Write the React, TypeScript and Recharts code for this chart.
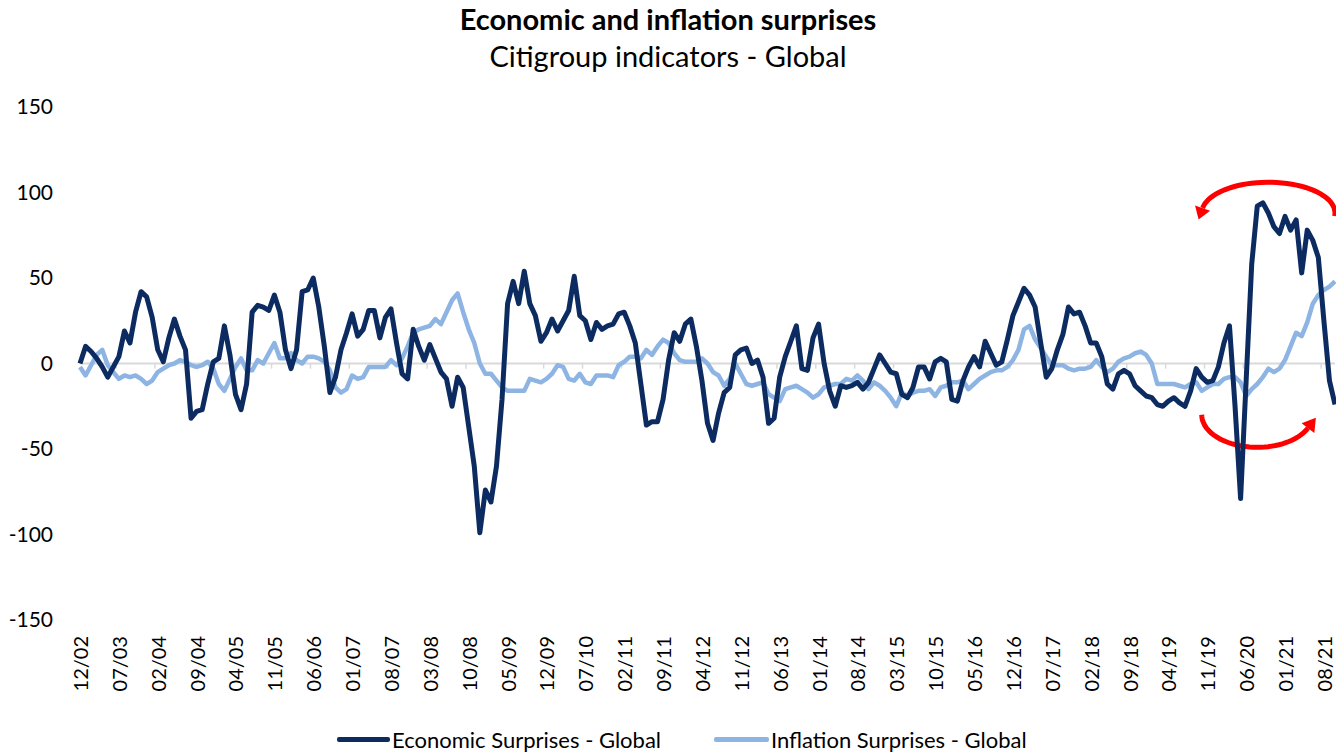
import { LineChart, Line, XAxis, YAxis, ReferenceLine, ReferenceArea } from "recharts";

// Citi surprise indices, monthly, 12/2002 .. 10/2021
const economic = [
  0, 10, 7, 3, -2, -8, -2, 4, 19, 12,
  30, 42, 39, 27, 8, 1, 15, 26, 16, 8,
  -32, -28, -27, -12, 1, 3, 22, 5, -18, -27,
  -12, 30, 34, 33, 31, 40, 30, 8, -3, 8,
  42, 43, 50, 33, 10, -17, -8, 8, 18, 29,
  16, 20, 31, 31, 15, 27, 32, 12, -6, -9,
  20, 10, 2, 11, 3, -5, -9, -25, -8, -14,
  -37, -60, -99, -74, -81, -60, -21, 35, 48, 35,
  54, 35, 28, 13, 18, 26, 19, 25, 31, 51,
  28, 25, 14, 24, 20, 22, 23, 29, 30, 22,
  12, -12, -36, -34, -34, -21, 2, 18, 13, 23,
  26, 10, -10, -35, -45, -29, -17, -14, 5, 8,
  9, 0, 2, -8, -35, -32, -8, 4, 13, 22,
  -3, -4, 15, 23, 0, -16, -25, -13, -14, -13,
  -11, -15, -11, -3, 5, 0, -5, -6, -18, -20,
  -14, -2, -2, -9, 1, 3, 1, -21, -22, -10,
  -2, 4, -2, 13, 6, -1, 1, 14, 28, 36,
  44, 40, 33, 12, -8, -3, 8, 17, 33, 29,
  30, 22, 12, 12, 4, -12, -15, -6, -4, -6,
  -13, -16, -19, -20, -24, -25, -22, -20, -23, -25,
  -16, -3, -8, -11, -10, -2, 12, 22, -25, -79,
  -10, 58, 92, 94, 88, 80, 76, 86, 78, 84,
  53, 78, 72, 62, 25, -10, -24,
];

const inflation = [
  -2, -7, -1, 5, 8, -1, -5, -9, -7, -8,
  -7, -9, -12, -10, -5, -3, -1, 0, 2, 1,
  -1, -2, -1, 1, -3, -12, -16, -9, -2, 3,
  -4, -4, 2, 0, 6, 12, 3, 3, 6, 2,
  0, 4, 4, 3, 1, -4, -14, -17, -15, -7,
  -9, -8, -2, -2, -2, -2, 2, -1, 3, 10,
  18, 20, 21, 22, 26, 23, 30, 37, 41, 30,
  20, 12, 0, -6, -6, -10, -14, -16, -16, -16,
  -16, -9, -10, -11, -9, -6, -1, -2, -9, -10,
  -6, -11, -12, -7, -7, -7, -8, -1, 1, 4,
  4, 3, 8, 5, 10, 14, 12, 6, 2, 1,
  1, 1, 3, 0, -5, -7, -13, -9, 0, -6,
  -12, -13, -12, -11, -18, -20, -22, -15, -14, -13,
  -15, -17, -20, -18, -14, -13, -12, -12, -9, -10,
  -7, -10, -15, -11, -13, -16, -20, -25, -17, -19,
  -17, -16, -16, -15, -19, -14, -13, -11, -11, -10,
  -15, -12, -9, -7, -5, -4, -4, -2, 2, 8,
  20, 22, 14, 9, 4, -1, -1, -1, -3, -4,
  -3, -3, -2, 2, -2, -5, -3, 1, 3, 4,
  6, 7, 5, 0, -12, -12, -12, -12, -13, -14,
  -12, -11, -16, -14, -12, -12, -9, -8, -8, -11,
  -19, -15, -12, -8, -3, -5, -3, 2, 10, 18,
  16, 24, 35, 40, 43, 45, 48,
];

const yTicks = [-150, -100, -50, 0, 50, 100, 150];

const DARK = "#0c2c61";
const LIGHT = "#8db4e2";
const FONT = "Lato, 'Open Sans', sans-serif";

// month labels mm/yy starting 12/02
const months = economic.map((_, i) => {
  const m = ((11 + i) % 12) + 1;
  const y = 2002 + Math.floor((11 + i) / 12);
  return `${String(m).padStart(2, "0")}/${String(y % 100).padStart(2, "0")}`;
});

const data = months.map((label, i) => ({
  i,
  label,
  economic: economic[i],
  inflation: inflation[i],
}));

const xTicks = data.filter((d) => d.i % 7 === 0).map((d) => d.i);

function MonthTick({ x, y, payload }: any) {
  return (
    <text
      x={x}
      y={y}
      dy={8}
      transform={`rotate(-90, ${x}, ${y})`}
      textAnchor="end"
      fill="#000"
      fontSize={20}
      fontFamily={FONT}
    >
      {months[payload.value]}
    </text>
  );
}

function ellipsePts(cx: number, cy: number, rx: number, ry: number, t0: number, t1: number) {
  const pts: string[] = [];
  const n = 40;
  for (let k = 0; k <= n; k++) {
    const t = t0 + ((t1 - t0) * k) / n;
    pts.push(`${(cx + rx * Math.cos(t)).toFixed(1)},${(cy + ry * Math.sin(t)).toFixed(1)}`);
  }
  return "M" + pts.join(" L");
}

function arrowHead(cx: number, cy: number, rx: number, ry: number, t: number, tip: number) {
  // direction of travel when t decreases
  let dx = rx * Math.sin(t);
  let dy = -ry * Math.cos(t);
  const len = Math.hypot(dx, dy);
  dx /= len;
  dy /= len;
  const bx = cx + rx * Math.cos(t);
  const by = cy + ry * Math.sin(t);
  const w = 8;
  return `M${bx + dx * tip},${by + dy * tip} L${bx - dy * w},${by + dx * w} L${bx + dy * w},${by - dx * w} Z`;
}

// top arc: right -> over the top -> arrow pointing down on the left
function TopArc({ x, y, width, height }: any) {
  const cx = x + width / 2;
  const cy = y + height;
  const rx = width / 2;
  const ry = height;
  const tEnd = -Math.PI + 0.16;
  return (
    <g>
      <path d={ellipsePts(cx, cy, rx, ry, 0.1, tEnd)} fill="none" stroke="#ff0000" strokeWidth={5} />
      <path d={arrowHead(cx, cy, rx, ry, tEnd, 12)} fill="#ff0000" />
    </g>
  );
}

// bottom arc: left -> under -> arrow pointing up on the right
function BottomArc({ x, y, width, height }: any) {
  const cx = x + width / 2;
  const cy = y;
  const rx = width / 2;
  const ry = height;
  const tEnd = 0.42;
  return (
    <g>
      <path d={ellipsePts(cx, cy, rx, ry, Math.PI, tEnd)} fill="none" stroke="#ff0000" strokeWidth={5} />
      <path d={arrowHead(cx, cy, rx, ry, tEnd, 13)} fill="#ff0000" />
    </g>
  );
}

export default function App() {
  return (
    <div style={{ position: "relative", width: 1336, height: 753, background: "#fff", fontFamily: FONT }}>
      <style>{"body{margin:0}"}</style>
      <div
        style={{
          position: "absolute",
          top: 1,
          left: 0,
          width: 1336,
          textAlign: "center",
          fontSize: 29,
          fontWeight: 700,
          lineHeight: "36px",
        }}
      >
        Economic and inflation surprises
      </div>
      <div
        style={{
          position: "absolute",
          top: 38,
          left: 0,
          width: 1336,
          textAlign: "center",
          fontSize: 29,
          lineHeight: "36px",
        }}
      >
        Citigroup indicators - Global
      </div>

      <div style={{ position: "absolute", top: 0, left: 0 }}>
        <LineChart width={1336} height={700} data={data} margin={{ top: 107, right: 1, bottom: 0, left: 0 }}>
          <XAxis
            dataKey="i"
            type="number"
            domain={[0, economic.length - 1]}
            ticks={xTicks}
            interval={0}
            axisLine={false}
            tickLine={false}
            tickSize={0}
            tickMargin={16}
            height={80}
            tick={<MonthTick />}
          />
          <YAxis
            domain={[-150, 150]}
            ticks={yTicks}
            axisLine={false}
            tickLine={false}
            tickSize={0}
            tickMargin={27}
            width={80}
            tick={{ fill: "#000", fontSize: 21, fontFamily: FONT }}
          />
          <ReferenceLine y={0} stroke="#d9d9d9" strokeWidth={2} />
          {xTicks.slice(1).map((t) => (
            <ReferenceLine
              key={t}
              segment={[
                { x: t - 0.5, y: 0 },
                { x: t - 0.5, y: -3 },
              ]}
              stroke="#d9d9d9"
              strokeWidth={1.5}
            />
          ))}
          <Line
            dataKey="inflation"
            stroke={LIGHT}
            strokeWidth={4.5}
            dot={false}
            isAnimationActive={false}
            strokeLinejoin="round"
          />
          <Line
            dataKey="economic"
            stroke={DARK}
            strokeWidth={5}
            dot={false}
            isAnimationActive={false}
            strokeLinejoin="round"
          />
          <ReferenceArea x1={202} x2={226} y1={88} y2={106} shape={(p: any) => <TopArc {...p} />} ifOverflow="visible" />
          <ReferenceArea x1={202} x2={222} y1={-49} y2={-30} shape={(p: any) => <BottomArc {...p} />} ifOverflow="visible" />
        </LineChart>
      </div>

      <div style={{ position: "absolute", top: 726, left: 337, display: "flex", alignItems: "center", fontSize: 22 }}>
        <span style={{ display: "inline-block", width: 53, height: 5, background: DARK, borderRadius: 2 }} />
        <span style={{ marginLeft: 2 }}>Economic Surprises - Global</span>
        <span style={{ display: "inline-block", width: 55, height: 5, background: LIGHT, borderRadius: 2, marginLeft: 53 }} />
        <span style={{ marginLeft: 2 }}>Inflation Surprises - Global</span>
      </div>
    </div>
  );
}
